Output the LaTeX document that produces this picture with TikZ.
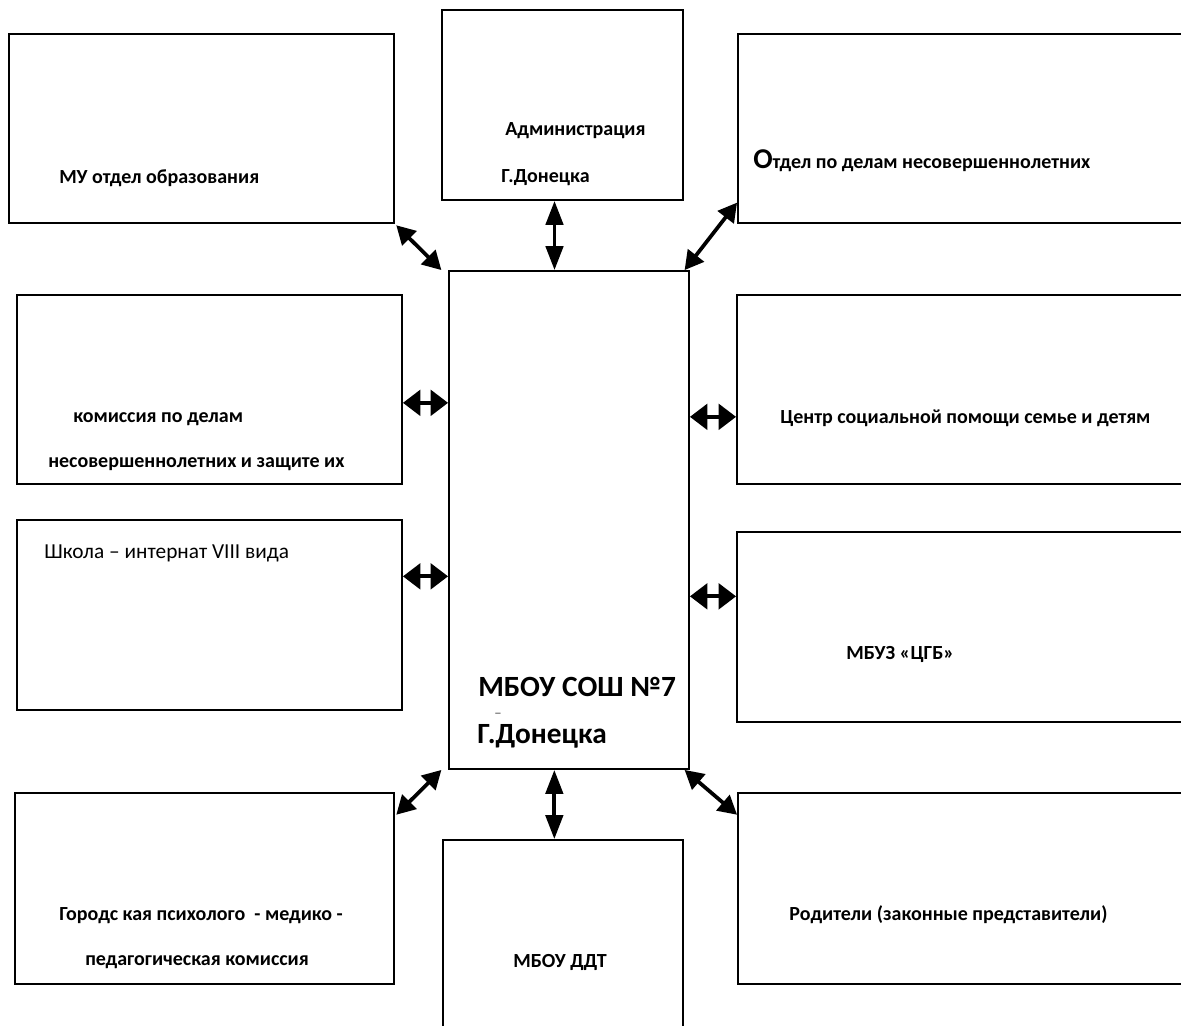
\documentclass[tikz,border=0pt]{standalone}
\usepackage{fontspec}
\setmainfont{Carlito}
\usetikzlibrary{fit,arrows.meta}
\begin{document}
\begin{tikzpicture}[x=0.75pt,y=-0.75pt,
  box/.style={draw=black,line width=1.4pt,rectangle,inner sep=0pt,fill=none},
  lbl/.style={anchor=base west,inner sep=0pt,font=\bfseries\fontsize{15}{17}\selectfont},
  biglbl/.style={anchor=base west,inner sep=0pt,font=\bfseries\fontsize{22}{26}\selectfont},
  reglbl/.style={anchor=base west,inner sep=0pt,font=\fontsize{16}{19}\selectfont},
  conn/.style={line width=2.8pt},
  harrow/.style={conn,{Triangle[length=13pt,width=19pt]}-{Triangle[length=13pt,width=19pt]}},
  varrow/.style={conn,{Triangle[length=18pt,width=13pt]}-{Triangle[length=18pt,width=13pt]}},
  darrow/.style={conn,{Triangle[length=14pt,width=15pt]}-{Triangle[length=14pt,width=15pt]}}
]
\clip (0,0) rectangle (1181,1025);
\fill[white] (0,0) rectangle (1181,1025);
% boxes
\node[box,fit={(9,34) (394,223)}] (mu) {};
\node[box,fit={(442,10) (683,200)}] (admin) {};
\node[box,fit={(738,34) (1200,223)}] (otdel) {};
\node[box,fit={(17,295) (402,484)}] (kom) {};
\node[box,fit={(17,520) (402,710)}] (shk) {};
\node[box,fit={(449,271) (689,769)}] (center) {};
\node[box,fit={(737,295) (1200,484)}] (social) {};
\node[box,fit={(737,532) (1200,722)}] (mbuz) {};
\node[box,fit={(15,793) (394,984)}] (gor) {};
\node[box,fit={(443,840) (683,1045)}] (ddt) {};
\node[box,fit={(738,793) (1200,984)}] (rod) {};
% texts
\node[lbl] (tmu) at (59,183) {МУ отдел образования};
\node[lbl] (tadm1) at (505,135) {Администрация};
\node[lbl] (tadm2) at (501,182) {Г.Донецка};
\node[lbl] (totd) at (753,168) {{\fontsize{21.5}{24}\selectfont О}тдел по делам несовершеннолетних};
\node[lbl] (tkom1) at (73,422) {комиссия по делам};
\node[lbl] (tkom2) at (48,467) {несовершеннолетних и защите их};
\node[reglbl] (tshk) at (44,558) {Школа – интернат VIII вида};
\node[biglbl] (tc1) at (478,696) {МБОУ СОШ №7};
\node[anchor=base west,inner sep=0pt,font=\fontsize{8}{9}\selectfont] (tcdash) at (495,712) {\_};
\node[biglbl] (tc2) at (477,743) {Г.Донецка};
\node[lbl] (tsoc) at (780,423) {Центр социальной помощи семье и детям};
\node[lbl] (tmbuz) at (846,659) {МБУЗ «ЦГБ»};
\node[lbl] (tgor1) at (59,920) {Городс кая психолого\ \ - медико -};
\node[lbl] (tgor2) at (85,965) {педагогическая комиссия};
\node[lbl] (tddt) at (513,967) {МБОУ ДДТ};
\node[lbl] (trod) at (789,920) {Родители (законные представители)};
% connectors
\draw[darrow] ([xshift=1pt,yshift=-1pt]mu.south east) -- ([xshift=-5pt]center.north west);
\draw[varrow] ([xshift=-6pt]admin.south) -- ([xshift=-6pt]admin.south |- center.north);
\draw[darrow] ([yshift=16pt]otdel.south west) -- ([xshift=-4pt]center.north east);
\draw[harrow] ([yshift=-10pt]kom.east) -- ([yshift=-10pt]kom.east -| center.west);
\draw[harrow] ([yshift=29pt]shk.east) -- ([yshift=29pt]shk.east -| center.west);
\draw[harrow] ([yshift=-20.5pt]social.west -| center.east) -- ([yshift=-20.5pt]social.west);
\draw[harrow] ([yshift=23pt]mbuz.west -| center.east) -- ([yshift=23pt]mbuz.west);
\draw[darrow] ([xshift=-5pt]center.south west) -- ([xshift=1pt,yshift=-17pt]gor.north east);
\draw[varrow] ([xshift=-11pt]center.south) -- ([xshift=-11pt]center.south |- ddt.north);
\draw[darrow] ([xshift=-4pt]center.south east) -- ([yshift=-17pt]rod.north west);
\end{tikzpicture}
\end{document}
